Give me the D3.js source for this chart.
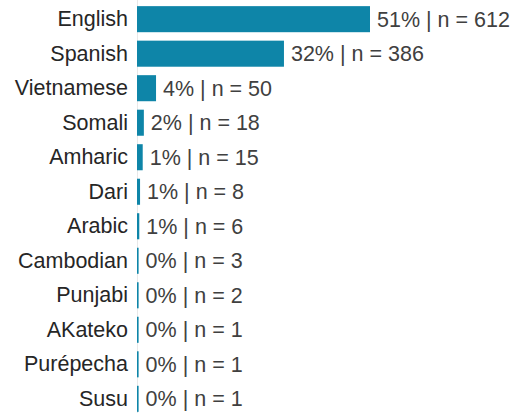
<!DOCTYPE html>
<html>
<head>
<meta charset="utf-8">
<script src="https://cdn.jsdelivr.net/npm/d3@7"></script>
<style>
  html, body { margin: 0; padding: 0; background: #fff; }
  svg { display: block; }
</style>
</head>
<body>
<svg id="chart" width="519" height="413"></svg>
<script>
const categories = ["English", "Spanish", "Vietnamese", "Somali", "Amharic", "Dari", "Arabic", "Cambodian", "Punjabi", "AKateko", "Purépecha", "Susu"];
const counts = [612, 386, 50, 18, 15, 8, 6, 3, 2, 1, 1, 1];
const percents = ["51%", "32%", "4%", "2%", "1%", "1%", "1%", "0%", "0%", "0%", "0%", "0%"];

const data = categories.map((c, i) => ({ cat: c, n: counts[i], pct: percents[i] }));

const svg = d3.select("#chart");
const left = 137;

const x = d3.scaleLinear().domain([0, 612]).range([left, 370]);
const y = d3.scaleBand().domain(categories).range([2, 416]).paddingInner(0.245).paddingOuter(0.12);

// faint baseline
svg.append("line")
  .attr("x1", left + 0.5).attr("x2", left + 0.5)
  .attr("y1", 0).attr("y2", 413)
  .attr("stroke", "#e8e8e8").attr("stroke-width", 1);

svg.selectAll("rect.bar").data(data).enter().append("rect")
  .attr("class", "bar")
  .attr("x", x(0))
  .attr("y", d => y(d.cat))
  .attr("width", d => Math.max(x(d.n) - x(0), 1.6))
  .attr("height", y.bandwidth())
  .attr("fill", "#0e85a8");

const yAxis = d3.axisLeft(y).tickSize(0).tickPadding(9);
const gAxis = svg.append("g").attr("transform", `translate(${left},0)`).call(yAxis);
gAxis.select(".domain").remove();
gAxis.selectAll("text")
  .attr("font-family", "Liberation Sans, Arial, sans-serif")
  .attr("font-size", "21.5px")
  .attr("fill", "#262626");

svg.selectAll("text.val").data(data).enter().append("text")
  .attr("class", "val")
  .attr("x", d => Math.max(x(d.n), x(0) + 1.6) + 7)
  .attr("y", d => y(d.cat) + y.bandwidth() / 2)
  .attr("dy", "0.35em")
  .attr("font-family", "Liberation Sans, Arial, sans-serif")
  .attr("font-size", "21.5px")
  .attr("fill", "#404040")
  .text(d => `${d.pct} | n = ${d.n}`);
</script>
</body>
</html>
